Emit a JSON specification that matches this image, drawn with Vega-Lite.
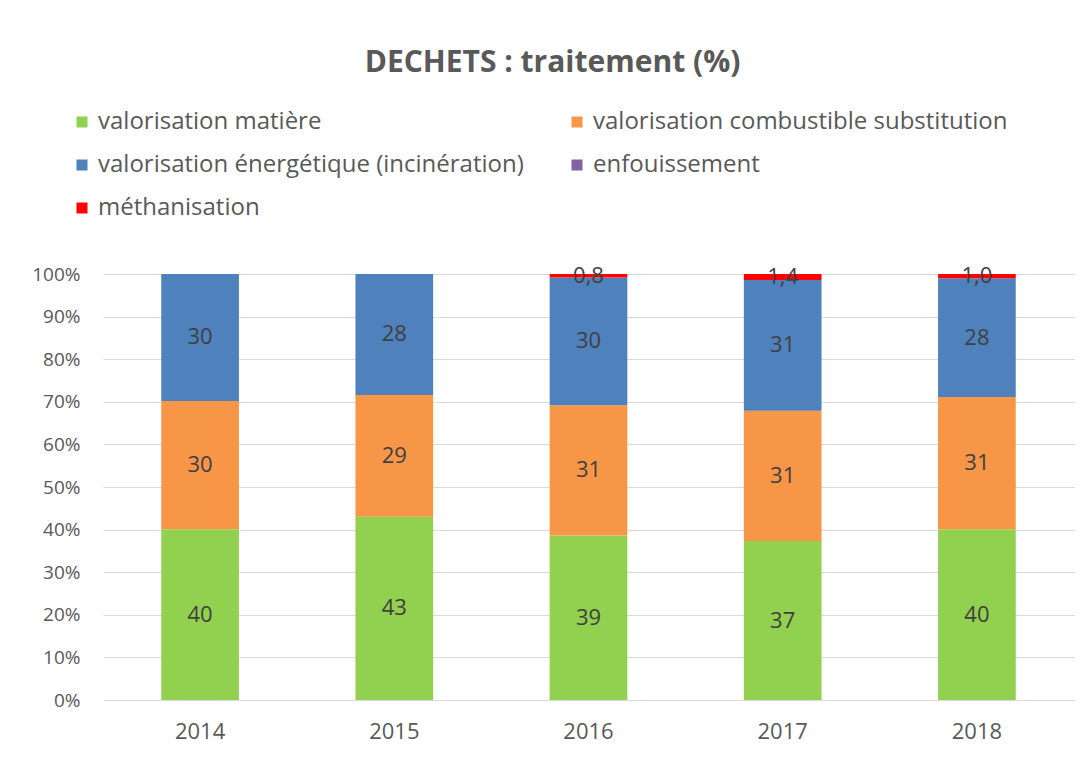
{
  "$schema": "https://vega.github.io/schema/vega-lite/v6.json",
  "width": 971,
  "height": 426,
  "autosize": {"type": "none"},
  "padding": {"left": 103, "top": 274, "right": 15, "bottom": 62},
  "background": "white",
  "title": {
    "text": "DECHETS : traitement (%)",
    "font": "Open Sans",
    "fontSize": 30,
    "fontWeight": "bold",
    "color": "#595959",
    "anchor": "middle",
    "frame": "group",
    "dx": -36,
    "offset": 32
  },
  "data": {
    "values": [
      {"annee": "2014", "type": "valorisation matière", "valeur": 40.1},
      {"annee": "2014", "type": "valorisation combustible substitution", "valeur": 30.1},
      {"annee": "2014", "type": "valorisation énergétique (incinération)", "valeur": 29.8},
      {"annee": "2015", "type": "valorisation matière", "valeur": 43.0},
      {"annee": "2015", "type": "valorisation combustible substitution", "valeur": 28.6},
      {"annee": "2015", "type": "valorisation énergétique (incinération)", "valeur": 28.4},
      {"annee": "2016", "type": "valorisation matière", "valeur": 38.6},
      {"annee": "2016", "type": "valorisation combustible substitution", "valeur": 30.6},
      {"annee": "2016", "type": "valorisation énergétique (incinération)", "valeur": 30.0},
      {"annee": "2016", "type": "méthanisation", "valeur": 0.8},
      {"annee": "2017", "type": "valorisation matière", "valeur": 37.3},
      {"annee": "2017", "type": "valorisation combustible substitution", "valeur": 30.6},
      {"annee": "2017", "type": "valorisation énergétique (incinération)", "valeur": 30.7},
      {"annee": "2017", "type": "méthanisation", "valeur": 1.4},
      {"annee": "2018", "type": "valorisation matière", "valeur": 40.1},
      {"annee": "2018", "type": "valorisation combustible substitution", "valeur": 31.0},
      {"annee": "2018", "type": "valorisation énergétique (incinération)", "valeur": 27.9},
      {"annee": "2018", "type": "méthanisation", "valeur": 1.0}
    ]
  },
  "transform": [
    {"calculate": "indexof(['valorisation matière','valorisation combustible substitution','valorisation énergétique (incinération)','enfouissement','méthanisation'], datum.type)", "as": "rang"},
    {"stack": "valeur", "groupby": ["annee"], "sort": [{"field": "rang", "order": "ascending"}], "offset": "normalize", "as": ["y0", "y1"]},
    {"calculate": "(datum.y0 + datum.y1) / 2", "as": "ymid"},
    {"calculate": "datum.type === 'méthanisation' ? replace(format(datum.valeur, '.1f'), '.', ',') : format(datum.valeur, '.0f')", "as": "etiquette"}
  ],
  "encoding": {
    "x": {
      "field": "annee",
      "type": "nominal",
      "title": null,
      "scale": {"paddingInner": 0.6, "paddingOuter": 0.3},
      "axis": {
        "labelAngle": 0,
        "labelFont": "Open Sans",
        "labelFontSize": 22,
        "labelColor": "#595959",
        "labelPadding": 21,
        "ticks": false,
        "domain": false,
        "grid": false
      }
    }
  },
  "layer": [
    {
      "mark": {"type": "bar", "strokeWidth": 0},
      "encoding": {
        "y": {
          "field": "y0",
          "type": "quantitative",
          "title": null,
          "scale": {"domain": [0, 1], "nice": false},
          "axis": {
            "values": [0, 0.1, 0.2, 0.3, 0.4, 0.5, 0.6, 0.7, 0.8, 0.9, 1],
            "format": ".0%",
            "labelFont": "Open Sans",
            "labelFontSize": 19,
            "labelColor": "#595959",
            "labelPadding": 23,
            "ticks": false,
            "domain": false,
            "grid": true,
            "gridColor": "#D9D9D9",
            "gridWidth": 1.2
          }
        },
        "y2": {"field": "y1"},
        "color": {
          "field": "type",
          "type": "nominal",
          "scale": {
            "domain": ["valorisation matière", "valorisation combustible substitution", "valorisation énergétique (incinération)", "enfouissement", "méthanisation"],
            "range": ["#92D050", "#F79646", "#4F81BD", "#8064A2", "#FF0000"]
          },
          "legend": {
            "title": null,
            "orient": "none",
            "legendX": -33,
            "legendY": -164,
            "direction": "horizontal",
            "columns": 2,
            "columnPadding": 41,
            "rowPadding": 19,
            "symbolType": "square",
            "symbolSize": 121,
            "symbolStrokeWidth": 0,
            "symbolOpacity": 1,
            "labelFont": "Open Sans",
            "labelFontSize": 24,
            "labelColor": "#595959",
            "labelOffset": 4,
            "labelLimit": 700,
            "padding": 0
          }
        }
      }
    },
    {
      "mark": {"type": "text", "font": "Open Sans", "fontSize": 22, "color": "#404040", "baseline": "middle"},
      "encoding": {
        "y": {"field": "ymid", "type": "quantitative"},
        "text": {"field": "etiquette", "type": "nominal"}
      }
    }
  ],
  "config": {
    "view": {"stroke": null}
  }
}
